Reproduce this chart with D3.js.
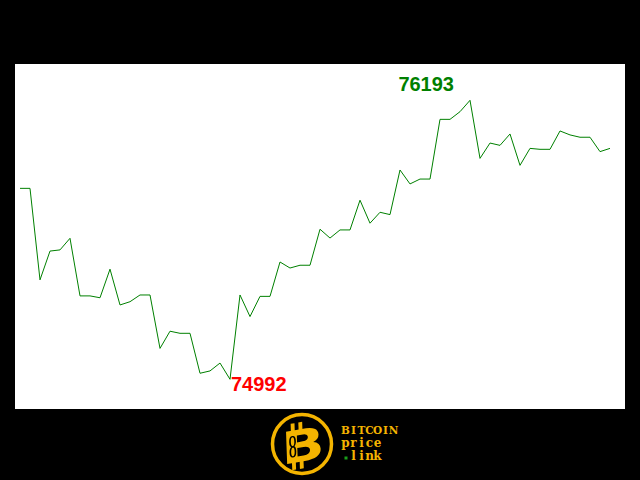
<!DOCTYPE html>
<html><head><meta charset="utf-8">
<script src="https://cdn.jsdelivr.net/npm/d3@7"></script>
<style>html,body{margin:0;padding:0;background:#000;}svg{display:block;}</style>
</head><body>
<script>
const prices = [75814,75814,75420,75544,75549,75599,75351,75351,75343,75466,
75312,75326,75355,75355,75125,75199,75190,75190,75018,75028,
75062,74992,75355,75262,75349,75349,75497,75471,75483,75483,
75638,75600,75635,75635,75763,75664,75711,75701,75893,75833,
75854,75854,76111,76111,76144,76193,75943,76009,75999,76048,
75913,75986,75982,75982,76061,76044,76034,76034,75972,75986];
const maxLabel = "76193";
const minLabel = "74992";
const logoLines = ["BITCOIN","price","link"];

const W=640,H=480;
const svg=d3.select("body").append("svg").attr("width",W).attr("height",H);
svg.append("rect").attr("width",W).attr("height",H).attr("fill","#000");
svg.append("rect").attr("x",15).attr("y",64).attr("width",610).attr("height",345).attr("fill","#fff");

const x=d3.scaleLinear().domain([0,prices.length-1]).range([20,610]);
const y=d3.scaleLinear().domain([d3.min(prices),d3.max(prices)]).range([379.3,100.3]);

svg.append("path").datum(prices)
  .attr("d",d3.line().x((d,i)=>x(i)).y(d=>y(d)))
  .attr("fill","none").attr("stroke","#008000").attr("stroke-width",1);

const iMax=d3.maxIndex(prices), iMin=d3.minIndex(prices);
svg.append("text").attr("x",x(iMax)-16).attr("y",y(prices[iMax])-9.5)
  .attr("text-anchor","end").attr("font-family","Liberation Sans, Arial, sans-serif")
  .attr("font-weight","bold").attr("font-size",20).attr("fill","#008000").text(maxLabel);
svg.append("text").attr("x",x(iMin)+1).attr("y",y(prices[iMin])+11.5)
  .attr("font-family","Liberation Sans, Arial, sans-serif")
  .attr("font-weight","bold").attr("font-size",20).attr("fill","#ff0000").text(minLabel);

// logo
const gold="#f4b400";
const lg=svg.append("g");
lg.append("circle").attr("cx",302).attr("cy",444).attr("r",29.5).attr("fill","#000").attr("stroke",gold).attr("stroke-width",3.5);
const bg=lg.append("g").attr("transform","translate(303,446) rotate(-10) skewX(-8) scale(1.3,1)");
bg.append("rect").attr("x",-9).attr("y",-24).attr("width",3).attr("height",8).attr("fill",gold);
bg.append("rect").attr("x",-3).attr("y",-24).attr("width",3).attr("height",8).attr("fill",gold);
bg.append("rect").attr("x",-9).attr("y",14).attr("width",3).attr("height",8).attr("fill",gold);
bg.append("rect").attr("x",-3).attr("y",14).attr("width",3).attr("height",8).attr("fill",gold);
bg.append("text").attr("x",0).attr("y",15).attr("text-anchor","middle")
  .attr("font-family","DejaVu Sans, sans-serif").attr("font-weight","bold").attr("font-size",44)
  .attr("fill",gold).text("B");
bg.append("ellipse").attr("cx",-8).attr("cy",-6).attr("rx",2).attr("ry",5).attr("fill","none").attr("stroke","#000").attr("stroke-width",1.3);
bg.append("ellipse").attr("cx",-8).attr("cy",4).attr("rx",2).attr("ry",5).attr("fill","none").attr("stroke","#000").attr("stroke-width",1.3);

const tf="DejaVu Serif, Liberation Serif, serif";
function monoText(str, x0, yb, fs){
  const xs = Array.from(str).map((c,i)=>x0+4+i*8).join(" ");
  lg.append("text").attr("x",xs).attr("y",yb).attr("text-anchor","middle")
    .attr("font-family",tf).attr("font-weight","bold").attr("font-size",fs)
    .attr("fill",gold).text(str);
}
monoText(logoLines[0],341.5,434,10.5);
monoText(logoLines[1],341.5,446.5,12);
monoText(logoLines[2],349.5,460,12);
lg.append("rect").attr("x",344.5).attr("y",456.5).attr("width",3).attr("height",3).attr("fill","#1aa01a");
</script>
</body></html>
